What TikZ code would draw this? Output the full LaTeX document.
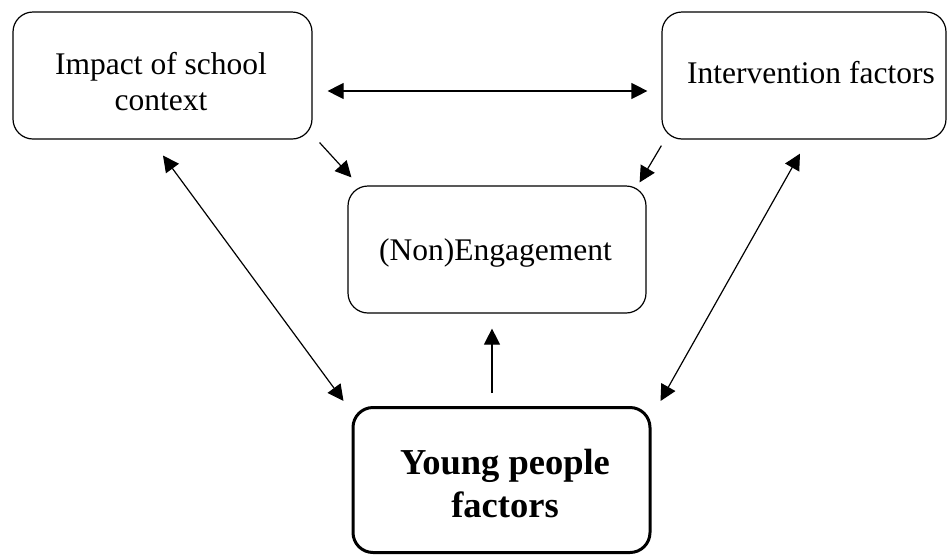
\documentclass[tikz,border=0pt]{standalone}
\usepackage{fontspec}
\setmainfont{Liberation Serif}
\usetikzlibrary{arrows.meta}
\begin{document}
\begin{tikzpicture}[x=1pt,y=-1pt,
  box/.style={draw, line width=1.2pt, rounded corners=20pt, inner sep=0pt},
  keybox/.style={box, line width=3pt},
  txt/.style={inner sep=0pt, align=center, font=\fontsize{31.5}{36}\selectfont},
  keytxt/.style={inner sep=0pt, align=center, font=\fontsize{36.5}{43}\selectfont\bfseries},
  link/.style={line width=1.2pt, -{Triangle[length=16pt,width=16pt]}},
  bilink/.style={line width=1.2pt, {Triangle[length=16pt,width=16pt]}-{Triangle[length=16pt,width=16pt]}}]
\useasboundingbox (0,0) rectangle (948,555);

% boxes
\node[box, minimum width=299pt, minimum height=127pt] (L) at (162.5,75.5) {};
\node[box, minimum width=284pt, minimum height=127pt] (R) at (804,75.5) {};
\node[box, minimum width=298pt, minimum height=127pt] (M) at (497,249.5) {};
\node[keybox, minimum width=297pt, minimum height=145pt] (B) at (501.5,480) {};

% labels
\node[txt] (tL) at (161,82) {Impact of school\\context};
\node[txt, anchor=base] (tR) at (811,83) {Intervention factors};
\node[txt, anchor=base] (tM) at (495.5,260) {(Non)Engagement};
\node[keytxt] (tB) at (505,484) {Young people\\factors};

% connectors
\draw[bilink] ([shift={(15,15.5)}]L.east) -- ([shift={(-14,15.5)}]R.west);
\draw[link] ([shift={(7,3)}]L.south east) -- ([shift={(4,-8)}]M.north west);
\draw[link] ([shift={(0,6)}]R.south west) -- ([shift={(-7,-3)}]M.north east);
\draw[link] ([shift={(-9.5,-13)}]B.north) -- ([shift={(-5,15)}]M.south);
\draw[bilink] ([shift={(0.5,16)}]L.south) -- ([shift={(-8,-5)}]B.north west);
\draw[bilink] ([shift={(-4,14)}]R.south) -- ([shift={(9,-5)}]B.north east);
\end{tikzpicture}
\end{document}
